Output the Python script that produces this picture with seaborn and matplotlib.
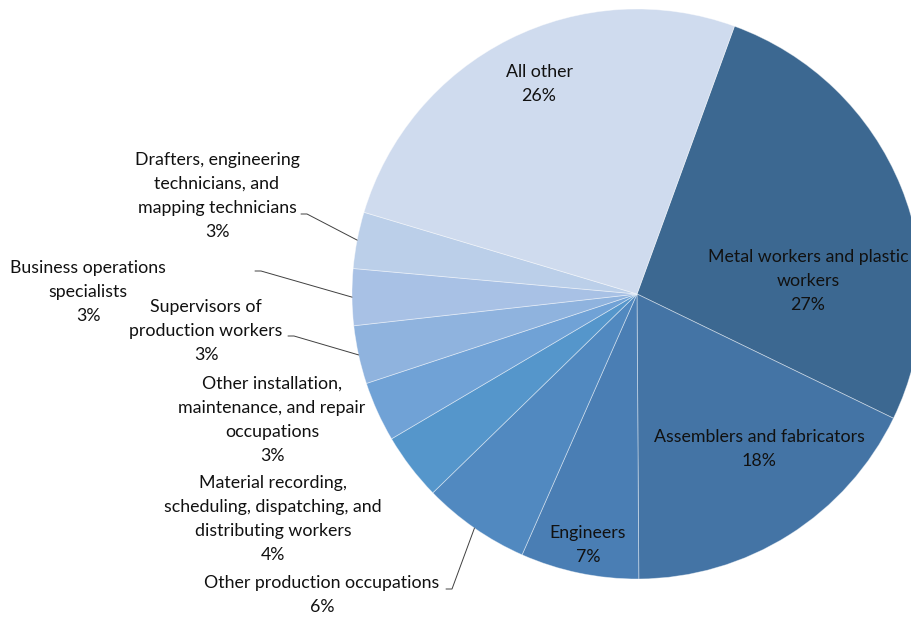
import numpy as np
import matplotlib
matplotlib.use("Agg")
import matplotlib.pyplot as plt
import seaborn as sns

# Shares of employment by occupation (percent)
occupations = [
    "Metal workers and plastic\nworkers",
    "Assemblers and fabricators",
    "Engineers",
    "Other production occupations",
    "Material recording,\nscheduling, dispatching, and\ndistributing workers",
    "Other installation,\nmaintenance, and repair\noccupations",
    "Supervisors of\nproduction workers",
    "Business operations\nspecialists",
    "Drafters, engineering\ntechnicians, and\nmapping technicians",
    "All other",
]
shares = [26.6, 17.7, 6.7, 6.1, 3.8, 3.4, 3.3, 3.2, 3.2, 25.9]
pct_labels = ["27%", "18%", "7%", "6%", "4%", "3%", "3%", "3%", "3%", "26%"]

colors = ["#3C6891", "#4474A5", "#4A7EB4", "#5189C0", "#5596CB",
          "#70A2D6", "#8FB3DE", "#A8C1E5", "#BBCFE9", "#CFDBEE"]

W, H = 911, 618
CX, CY, R = 637, 294, 285   # pie centre / radius in pixel coords (y down)

# label text centres (pixel coords, y down) and leader line starts
label_pos = [(808, 281), (759, 449), (588, 545), (322, 595), (273, 519),
             (272, 420), (206, 331), (88, 292), (217, 196), (539, 84)]
leader_start = {3: (446, 589), 6: (288, 336), 7: (255, 271), 8: (301, 214)}

sns.set_theme(style="white")
plt.rcParams["font.family"] = ["Lato", "DejaVu Sans"]

fig = plt.figure(figsize=(W / 100, H / 100), dpi=100)
ax = fig.add_axes([0, 0, 1, 1])


def fy(y):
    return H - y


wedges, _ = ax.pie(shares, colors=colors, startangle=70, counterclock=False,
                   center=(CX, fy(CY)), radius=R, frame=True,
                   wedgeprops=dict(edgecolor=(1, 1, 1, 0.45), linewidth=0.6))
ax.set_xlim(0, W)
ax.set_ylim(0, H)
ax.set_aspect("equal")
ax.axis("off")

for i, (name, pct) in enumerate(zip(occupations, pct_labels)):
    x, y = label_pos[i]
    ax.text(x, fy(y), f"{name}\n{pct}", ha="center", va="center",
            fontsize=12.8, color="#111111", linespacing=1.62)
    if i in leader_start:
        w = wedges[i]
        mid = np.deg2rad((w.theta1 + w.theta2) / 2)
        ex = CX + R * np.cos(mid)
        ey = fy(CY) + R * np.sin(mid)
        sx, sy = leader_start[i]
        ax.plot([sx, sx + 6, ex], [fy(sy), fy(sy), ey], color="#404040", lw=0.7)

fig.savefig("out.png", dpi=100)
